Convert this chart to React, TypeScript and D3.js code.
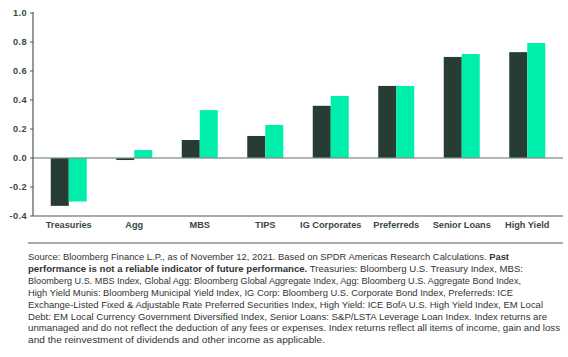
import React from "react";
import * as d3 from "d3";

const categories = ["Treasuries", "Agg", "MBS", "TIPS", "IG Corporates", "Preferreds", "Senior Loans", "High Yield"];
const seriesA = [-0.33, -0.014, 0.124, 0.152, 0.36, 0.497, 0.697, 0.73];
const seriesB = [-0.30, 0.055, 0.33, 0.228, 0.428, 0.497, 0.717, 0.793];
const yTicks = [-0.4, -0.2, 0.0, 0.2, 0.4, 0.6, 0.8, 1.0];

const footLines: { t: string; b?: string; after?: string }[] = [
  { t: "Source: Bloomberg Finance L.P., as of November 12, 2021. Based on SPDR Americas Research Calculations. ", b: "Past" },
  { t: "", b: "performance is not a reliable indicator of future performance.", after: " Treasuries: Bloomberg U.S. Treasury Index, MBS:" },
  { t: "Bloomberg U.S. MBS Index, Global Agg: Bloomberg Global Aggregate Index, Agg: Bloomberg U.S. Aggregate Bond Index," },
  { t: "High Yield Munis: Bloomberg Municipal Yield Index, IG Corp: Bloomberg U.S. Corporate Bond Index, Preferreds: ICE" },
  { t: "Exchange-Listed Fixed & Adjustable Rate Preferred Securities Index, High Yield: ICE BofA U.S. High Yield Index, EM Local" },
  { t: "Debt: EM Local Currency Government Diversified Index, Senior Loans: S&P/LSTA Leverage Loan Index. Index returns are" },
  { t: "unmanaged and do not reflect the deduction of any fees or expenses. Index returns reflect all items of income, gain and loss" },
  { t: "and the reinvestment of dividends and other income as applicable." },
];
const footWidths = [481, 495, 493, 485, 515, 519, 532, 297];

const DARK = "#273d33";
const GREEN = "#00eeab";
const AXIS = "#4b5c56";
const TEXT = "#3a4843";

export default function App() {
  const W = 568, H = 357;
  const left = 33, right = 563;
  const y = d3.scaleLinear().domain([-0.4, 1.0]).range([216, 13]);
  const x = d3.scaleBand<string>().domain(categories).range([36, 560]).padding(0);
  const bw = 18;
  const font = "'Liberation Sans', Arial, sans-serif";

  return (
    <svg width={W} height={H} style={{ position: "absolute", left: 0, top: 0, display: "block" }}>
      <rect width={W} height={H} fill="#fff" />
      {categories.map((c, i) => {
        const cx = (x(c) as number) + x.bandwidth() / 2;
        const a = seriesA[i], b = seriesB[i];
        return (
          <g key={c}>
            <rect x={cx - bw} y={Math.min(y(a), y(0))} width={bw} height={Math.abs(y(a) - y(0))} fill={DARK} />
            <rect x={cx} y={Math.min(y(b), y(0))} width={bw} height={Math.abs(y(b) - y(0))} fill={GREEN} />
          </g>
        );
      })}
      <line x1={left} x2={right} y1={y(0)} y2={y(0)} stroke="#7f8f88" strokeOpacity={0.85} strokeWidth={1.6} />
      <line x1={left} x2={left} y1={y(1.0) - 1} y2={y(-0.4)} stroke={AXIS} strokeWidth={1.2} />
      <line x1={left} x2={right} y1={y(-0.4)} y2={y(-0.4)} stroke={AXIS} strokeWidth={1.2} />
      {yTicks.map((t) => (
        <g key={t}>
          <line x1={left - 3} x2={left} y1={y(t)} y2={y(t)} stroke={AXIS} strokeWidth={1} />
          <text x={27} y={y(t)} dy="0.35em" textAnchor="end" fontFamily={font} fontWeight="bold" fontSize={9.2} letterSpacing={0.4} fill={TEXT}>
            {d3.format(".1f")(t).replace("−", "-")}
          </text>
        </g>
      ))}
      {categories.map((c) => (
        <text key={c} x={(x(c) as number) + x.bandwidth() / 2} y={228} textAnchor="middle" fontFamily={font} fontWeight="bold" fontSize={9.2} fill={TEXT}>
          {c}
        </text>
      ))}
      <line x1={28} x2={right} y1={243} y2={243} stroke={AXIS} strokeWidth={1.2} />
      {footLines.map((l, i) => (
        <text key={i} x={28} y={260 + i * 11.9} fontFamily={font} fontSize={9.1} fill="#333"
          textLength={footWidths[i]} lengthAdjust="spacingAndGlyphs">
          {l.t}
          {l.b ? <tspan fontWeight="bold">{l.b}</tspan> : null}
          {l.after ? l.after : null}
        </text>
      ))}
    </svg>
  );
}
